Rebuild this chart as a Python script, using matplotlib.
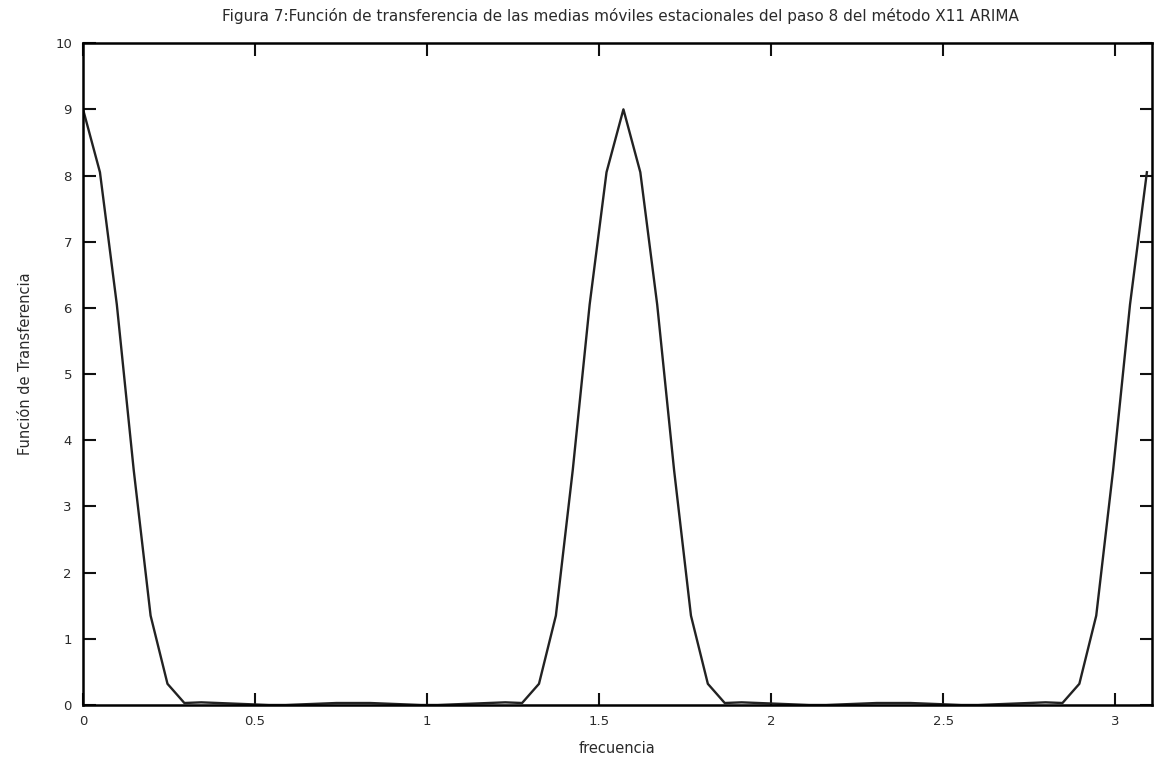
import numpy as np
import matplotlib
matplotlib.use("Agg")
import matplotlib.pyplot as plt

# ------------------------------------------------------------
# datos (64 frecuencias, paso pi/64)
# ------------------------------------------------------------
frecuencia = np.arange(64) * np.pi / 64

transferencia = [
    9.00, 8.05, 6.05, 3.55, 1.35, 0.32, 0.03, 0.04,
    0.03, 0.02, 0.01, 0.00, 0.00, 0.01, 0.02, 0.03,
    0.03, 0.03, 0.02, 0.01, 0.00, 0.00, 0.01, 0.02,
    0.03, 0.04, 0.03, 0.32, 1.35, 3.55, 6.05, 8.05,
    9.00, 8.05, 6.05, 3.55, 1.35, 0.32, 0.03, 0.04,
    0.03, 0.02, 0.01, 0.00, 0.00, 0.01, 0.02, 0.03,
    0.03, 0.03, 0.02, 0.01, 0.00, 0.00, 0.01, 0.02,
    0.03, 0.04, 0.03, 0.32, 1.35, 3.55, 6.05, 8.05,
]

x_ticks = [0, 0.5, 1, 1.5, 2, 2.5, 3]
x_tick_labels = ["0", "0.5", "1", "1.5", "2", "2.5", "3"]
y_ticks = list(range(11))

titulo = ("Figura 7:Función de transferencia de las medias móviles "
          "estacionales del paso 8 del método X11 ARIMA")

plt.rcParams["font.family"] = ["DejaVu Sans"]
texto = "#2a2a2a"

fig = plt.figure(figsize=(11.6, 7.57), dpi=100)
ax = fig.add_axes([0.0716, 0.0687, 0.9214, 0.8743])

ax.plot(frecuencia, transferencia, color="#222222", linewidth=1.7)

ax.set_xlim(0, 3.107)
ax.set_ylim(0, 10)
ax.set_xticks(x_ticks)
ax.set_xticklabels(x_tick_labels)
ax.set_yticks(y_ticks)

ax.tick_params(direction="in", length=9, width=1.5, top=True, right=True,
               labelsize=9.5, colors="#111111", labelcolor=texto)
ax.tick_params(axis="x", pad=7)
ax.tick_params(axis="y", pad=8)
for s in ax.spines.values():
    s.set_linewidth(1.8)

ax.set_xlabel("frecuencia", fontsize=10.5, color=texto)
ax.xaxis.set_label_coords(0.5, -0.054)
ax.set_ylabel("Función de Transferencia", fontsize=10.5, color=texto)
ax.yaxis.set_label_coords(-0.047, 0.515)

fig.text(0.5345, 1 - 16 / 757, titulo, fontsize=11, color=texto,
         ha="center", va="center")

fig.savefig("out.png", dpi=100)
